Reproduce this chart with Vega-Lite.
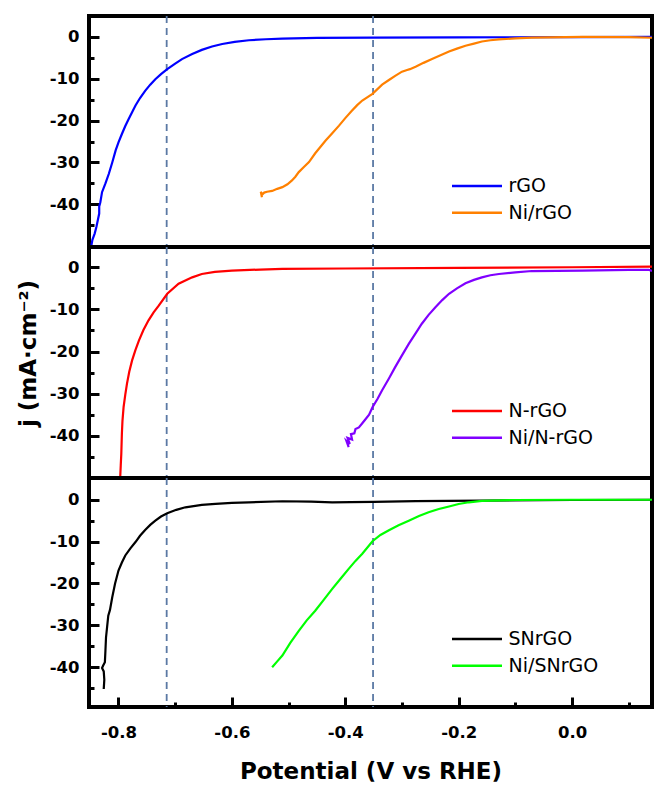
{
  "$schema": "https://vega.github.io/schema/vega-lite/v6.json",
  "padding": {"left": 15, "top": 13, "right": 2, "bottom": 2},
  "spacing": 0,
  "bounds": "flush",
  "config": {
    "view": {"stroke": "black", "strokeWidth": 4},
    "locale": {"number": {"decimal": ".", "thousands": ",", "grouping": [3], "currency": ["$", ""], "minus": "-"}},
    "axis": {"grid": false, "domain": false, "tickColor": "black", "tickWidth": 3, "labelColor": "black", "titleColor": "black", "labelFont": "DejaVu Sans", "labelFontWeight": "bold", "labelFontSize": 16.5, "titleFont": "DejaVu Sans", "titleFontWeight": "bold", "titleFontSize": 23},
    "legend": {"orient": "none", "title": null, "symbolType": "stroke", "symbolSize": 2500, "symbolStrokeWidth": 2.5, "clipHeight": 20, "rowPadding": 6.7, "labelFont": "DejaVu Sans", "labelFontSize": 19, "labelColor": "black", "labelOffset": 5, "padding": 0}
  },
  "datasets": {
    "vlines": [{"v": -0.715}, {"v": -0.351}],
    "curves": [
      {"panel": 1, "series": "rGO", "x": -0.848, "y": -50},
      {"panel": 1, "series": "rGO", "x": -0.846, "y": -48.5},
      {"panel": 1, "series": "rGO", "x": -0.842, "y": -47},
      {"panel": 1, "series": "rGO", "x": -0.839, "y": -45.4},
      {"panel": 1, "series": "rGO", "x": -0.836, "y": -43.5},
      {"panel": 1, "series": "rGO", "x": -0.834, "y": -42.2},
      {"panel": 1, "series": "rGO", "x": -0.834, "y": -40.5},
      {"panel": 1, "series": "rGO", "x": -0.832, "y": -39.5},
      {"panel": 1, "series": "rGO", "x": -0.829, "y": -37.1},
      {"panel": 1, "series": "rGO", "x": -0.823, "y": -35},
      {"panel": 1, "series": "rGO", "x": -0.817, "y": -32.7},
      {"panel": 1, "series": "rGO", "x": -0.811, "y": -30},
      {"panel": 1, "series": "rGO", "x": -0.805, "y": -27.1},
      {"panel": 1, "series": "rGO", "x": -0.8, "y": -25.2},
      {"panel": 1, "series": "rGO", "x": -0.794, "y": -23.2},
      {"panel": 1, "series": "rGO", "x": -0.788, "y": -21.3},
      {"panel": 1, "series": "rGO", "x": -0.782, "y": -19.6},
      {"panel": 1, "series": "rGO", "x": -0.776, "y": -18},
      {"panel": 1, "series": "rGO", "x": -0.77, "y": -16.4},
      {"panel": 1, "series": "rGO", "x": -0.762, "y": -14.6},
      {"panel": 1, "series": "rGO", "x": -0.753, "y": -12.9},
      {"panel": 1, "series": "rGO", "x": -0.744, "y": -11.4},
      {"panel": 1, "series": "rGO", "x": -0.735, "y": -10.1},
      {"panel": 1, "series": "rGO", "x": -0.725, "y": -8.9},
      {"panel": 1, "series": "rGO", "x": -0.714, "y": -7.7},
      {"panel": 1, "series": "rGO", "x": -0.7, "y": -6.4},
      {"panel": 1, "series": "rGO", "x": -0.688, "y": -5.3},
      {"panel": 1, "series": "rGO", "x": -0.67, "y": -4.1},
      {"panel": 1, "series": "rGO", "x": -0.653, "y": -3.1},
      {"panel": 1, "series": "rGO", "x": -0.635, "y": -2.3},
      {"panel": 1, "series": "rGO", "x": -0.617, "y": -1.7},
      {"panel": 1, "series": "rGO", "x": -0.595, "y": -1.2},
      {"panel": 1, "series": "rGO", "x": -0.57, "y": -0.8},
      {"panel": 1, "series": "rGO", "x": -0.54, "y": -0.55},
      {"panel": 1, "series": "rGO", "x": -0.511, "y": -0.4},
      {"panel": 1, "series": "rGO", "x": -0.45, "y": -0.25},
      {"panel": 1, "series": "rGO", "x": -0.353, "y": -0.15},
      {"panel": 1, "series": "rGO", "x": -0.2, "y": -0.1},
      {"panel": 1, "series": "rGO", "x": 0, "y": -0.05},
      {"panel": 1, "series": "rGO", "x": 0.141, "y": 0},
      {"panel": 1, "series": "Ni/rGO", "x": -0.547, "y": -38.3},
      {"panel": 1, "series": "Ni/rGO", "x": -0.549, "y": -37.0},
      {"panel": 1, "series": "Ni/rGO", "x": -0.546, "y": -37.6},
      {"panel": 1, "series": "Ni/rGO", "x": -0.543, "y": -37.2},
      {"panel": 1, "series": "Ni/rGO", "x": -0.538, "y": -37.0},
      {"panel": 1, "series": "Ni/rGO", "x": -0.529, "y": -36.8},
      {"panel": 1, "series": "Ni/rGO", "x": -0.52, "y": -36.3},
      {"panel": 1, "series": "Ni/rGO", "x": -0.511, "y": -35.9},
      {"panel": 1, "series": "Ni/rGO", "x": -0.502, "y": -35.2},
      {"panel": 1, "series": "Ni/rGO", "x": -0.494, "y": -34.3},
      {"panel": 1, "series": "Ni/rGO", "x": -0.488, "y": -33.4},
      {"panel": 1, "series": "Ni/rGO", "x": -0.482, "y": -32.3},
      {"panel": 1, "series": "Ni/rGO", "x": -0.473, "y": -31.1},
      {"panel": 1, "series": "Ni/rGO", "x": -0.464, "y": -29.9},
      {"panel": 1, "series": "Ni/rGO", "x": -0.453, "y": -27.8},
      {"panel": 1, "series": "Ni/rGO", "x": -0.444, "y": -26.3},
      {"panel": 1, "series": "Ni/rGO", "x": -0.435, "y": -24.8},
      {"panel": 1, "series": "Ni/rGO", "x": -0.423, "y": -23.0},
      {"panel": 1, "series": "Ni/rGO", "x": -0.411, "y": -21.2},
      {"panel": 1, "series": "Ni/rGO", "x": -0.4, "y": -19.4},
      {"panel": 1, "series": "Ni/rGO", "x": -0.388, "y": -17.6},
      {"panel": 1, "series": "Ni/rGO", "x": -0.379, "y": -16.3},
      {"panel": 1, "series": "Ni/rGO", "x": -0.37, "y": -15.2},
      {"panel": 1, "series": "Ni/rGO", "x": -0.352, "y": -13.6},
      {"panel": 1, "series": "Ni/rGO", "x": -0.335, "y": -11.4},
      {"panel": 1, "series": "Ni/rGO", "x": -0.323, "y": -10.3},
      {"panel": 1, "series": "Ni/rGO", "x": -0.312, "y": -9.3},
      {"panel": 1, "series": "Ni/rGO", "x": -0.3, "y": -8.3},
      {"panel": 1, "series": "Ni/rGO", "x": -0.291, "y": -7.9},
      {"panel": 1, "series": "Ni/rGO", "x": -0.286, "y": -7.7},
      {"panel": 1, "series": "Ni/rGO", "x": -0.276, "y": -7.1},
      {"panel": 1, "series": "Ni/rGO", "x": -0.262, "y": -6.2},
      {"panel": 1, "series": "Ni/rGO", "x": -0.247, "y": -5.3},
      {"panel": 1, "series": "Ni/rGO", "x": -0.232, "y": -4.4},
      {"panel": 1, "series": "Ni/rGO", "x": -0.217, "y": -3.5},
      {"panel": 1, "series": "Ni/rGO", "x": -0.203, "y": -2.8},
      {"panel": 1, "series": "Ni/rGO", "x": -0.188, "y": -2.1},
      {"panel": 1, "series": "Ni/rGO", "x": -0.173, "y": -1.6},
      {"panel": 1, "series": "Ni/rGO", "x": -0.159, "y": -1.1},
      {"panel": 1, "series": "Ni/rGO", "x": -0.144, "y": -0.8},
      {"panel": 1, "series": "Ni/rGO", "x": -0.129, "y": -0.6},
      {"panel": 1, "series": "Ni/rGO", "x": -0.1, "y": -0.35},
      {"panel": 1, "series": "Ni/rGO", "x": -0.071, "y": -0.15},
      {"panel": 1, "series": "Ni/rGO", "x": 0.018, "y": 0},
      {"panel": 1, "series": "Ni/rGO", "x": 0.1, "y": -0.05},
      {"panel": 1, "series": "Ni/rGO", "x": 0.141, "y": -0.2},
      {"panel": 2, "series": "N-rGO", "x": -0.797, "y": -50},
      {"panel": 2, "series": "N-rGO", "x": -0.796, "y": -47},
      {"panel": 2, "series": "N-rGO", "x": -0.795, "y": -44.2},
      {"panel": 2, "series": "N-rGO", "x": -0.794, "y": -39.5},
      {"panel": 2, "series": "N-rGO", "x": -0.793, "y": -36.5},
      {"panel": 2, "series": "N-rGO", "x": -0.791, "y": -33.2},
      {"panel": 2, "series": "N-rGO", "x": -0.788, "y": -30.2},
      {"panel": 2, "series": "N-rGO", "x": -0.785, "y": -27.6},
      {"panel": 2, "series": "N-rGO", "x": -0.781, "y": -24.8},
      {"panel": 2, "series": "N-rGO", "x": -0.776, "y": -22.1},
      {"panel": 2, "series": "N-rGO", "x": -0.77, "y": -19.6},
      {"panel": 2, "series": "N-rGO", "x": -0.764, "y": -17.4},
      {"panel": 2, "series": "N-rGO", "x": -0.756, "y": -14.9},
      {"panel": 2, "series": "N-rGO", "x": -0.747, "y": -12.6},
      {"panel": 2, "series": "N-rGO", "x": -0.738, "y": -10.7},
      {"panel": 2, "series": "N-rGO", "x": -0.729, "y": -9.1},
      {"panel": 2, "series": "N-rGO", "x": -0.714, "y": -6.3},
      {"panel": 2, "series": "N-rGO", "x": -0.694, "y": -3.9},
      {"panel": 2, "series": "N-rGO", "x": -0.67, "y": -2.4},
      {"panel": 2, "series": "N-rGO", "x": -0.653, "y": -1.6},
      {"panel": 2, "series": "N-rGO", "x": -0.63, "y": -1.1},
      {"panel": 2, "series": "N-rGO", "x": -0.6, "y": -0.8},
      {"panel": 2, "series": "N-rGO", "x": -0.55, "y": -0.55},
      {"panel": 2, "series": "N-rGO", "x": -0.511, "y": -0.4},
      {"panel": 2, "series": "N-rGO", "x": -0.4, "y": -0.3},
      {"panel": 2, "series": "N-rGO", "x": -0.2, "y": -0.15},
      {"panel": 2, "series": "N-rGO", "x": 0, "y": 0},
      {"panel": 2, "series": "N-rGO", "x": 0.141, "y": 0.15},
      {"panel": 2, "series": "Ni/N-rGO", "x": -0.394, "y": -42.7},
      {"panel": 2, "series": "Ni/N-rGO", "x": -0.398, "y": -41.2},
      {"panel": 2, "series": "Ni/N-rGO", "x": -0.392, "y": -41.9},
      {"panel": 2, "series": "Ni/N-rGO", "x": -0.396, "y": -40.5},
      {"panel": 2, "series": "Ni/N-rGO", "x": -0.388, "y": -40.9},
      {"panel": 2, "series": "Ni/N-rGO", "x": -0.39, "y": -39.6},
      {"panel": 2, "series": "Ni/N-rGO", "x": -0.384, "y": -39.4},
      {"panel": 2, "series": "Ni/N-rGO", "x": -0.382, "y": -38.4},
      {"panel": 2, "series": "Ni/N-rGO", "x": -0.376, "y": -38.0},
      {"panel": 2, "series": "Ni/N-rGO", "x": -0.37, "y": -37.0},
      {"panel": 2, "series": "Ni/N-rGO", "x": -0.364, "y": -36.0},
      {"panel": 2, "series": "Ni/N-rGO", "x": -0.358, "y": -35.0},
      {"panel": 2, "series": "Ni/N-rGO", "x": -0.352, "y": -33.2},
      {"panel": 2, "series": "Ni/N-rGO", "x": -0.343, "y": -31.2},
      {"panel": 2, "series": "Ni/N-rGO", "x": -0.335, "y": -29.2},
      {"panel": 2, "series": "Ni/N-rGO", "x": -0.323, "y": -26.4},
      {"panel": 2, "series": "Ni/N-rGO", "x": -0.312, "y": -23.7},
      {"panel": 2, "series": "Ni/N-rGO", "x": -0.3, "y": -20.9},
      {"panel": 2, "series": "Ni/N-rGO", "x": -0.288, "y": -18.2},
      {"panel": 2, "series": "Ni/N-rGO", "x": -0.276, "y": -15.7},
      {"panel": 2, "series": "Ni/N-rGO", "x": -0.265, "y": -13.4},
      {"panel": 2, "series": "Ni/N-rGO", "x": -0.253, "y": -11.3},
      {"panel": 2, "series": "Ni/N-rGO", "x": -0.241, "y": -9.5},
      {"panel": 2, "series": "Ni/N-rGO", "x": -0.229, "y": -7.8},
      {"panel": 2, "series": "Ni/N-rGO", "x": -0.217, "y": -6.3},
      {"panel": 2, "series": "Ni/N-rGO", "x": -0.203, "y": -5.0},
      {"panel": 2, "series": "Ni/N-rGO", "x": -0.188, "y": -3.8},
      {"panel": 2, "series": "Ni/N-rGO", "x": -0.173, "y": -3.0},
      {"panel": 2, "series": "Ni/N-rGO", "x": -0.159, "y": -2.4},
      {"panel": 2, "series": "Ni/N-rGO", "x": -0.144, "y": -1.9},
      {"panel": 2, "series": "Ni/N-rGO", "x": -0.129, "y": -1.6},
      {"panel": 2, "series": "Ni/N-rGO", "x": -0.1, "y": -1.2},
      {"panel": 2, "series": "Ni/N-rGO", "x": -0.071, "y": -0.9},
      {"panel": 2, "series": "Ni/N-rGO", "x": 0.018, "y": -0.8},
      {"panel": 2, "series": "Ni/N-rGO", "x": 0.1, "y": -0.65},
      {"panel": 2, "series": "Ni/N-rGO", "x": 0.135, "y": -0.6},
      {"panel": 2, "series": "Ni/N-rGO", "x": 0.141, "y": -0.9},
      {"panel": 3, "series": "SNrGO", "x": -0.826, "y": -45.2},
      {"panel": 3, "series": "SNrGO", "x": -0.825, "y": -43},
      {"panel": 3, "series": "SNrGO", "x": -0.826, "y": -41},
      {"panel": 3, "series": "SNrGO", "x": -0.829, "y": -40.2},
      {"panel": 3, "series": "SNrGO", "x": -0.827, "y": -39.6},
      {"panel": 3, "series": "SNrGO", "x": -0.824, "y": -38.8},
      {"panel": 3, "series": "SNrGO", "x": -0.823, "y": -36},
      {"panel": 3, "series": "SNrGO", "x": -0.822, "y": -32.9},
      {"panel": 3, "series": "SNrGO", "x": -0.82, "y": -30.3},
      {"panel": 3, "series": "SNrGO", "x": -0.818, "y": -27.7},
      {"panel": 3, "series": "SNrGO", "x": -0.815, "y": -26.3},
      {"panel": 3, "series": "SNrGO", "x": -0.811, "y": -23.3},
      {"panel": 3, "series": "SNrGO", "x": -0.806, "y": -20.0},
      {"panel": 3, "series": "SNrGO", "x": -0.8, "y": -16.9},
      {"panel": 3, "series": "SNrGO", "x": -0.794, "y": -15.0},
      {"panel": 3, "series": "SNrGO", "x": -0.788, "y": -13.3},
      {"panel": 3, "series": "SNrGO", "x": -0.779, "y": -11.6},
      {"panel": 3, "series": "SNrGO", "x": -0.77, "y": -10.1},
      {"panel": 3, "series": "SNrGO", "x": -0.762, "y": -8.6},
      {"panel": 3, "series": "SNrGO", "x": -0.753, "y": -7.2},
      {"panel": 3, "series": "SNrGO", "x": -0.744, "y": -6.0},
      {"panel": 3, "series": "SNrGO", "x": -0.735, "y": -5.0},
      {"panel": 3, "series": "SNrGO", "x": -0.725, "y": -4.0},
      {"panel": 3, "series": "SNrGO", "x": -0.714, "y": -3.2},
      {"panel": 3, "series": "SNrGO", "x": -0.698, "y": -2.4},
      {"panel": 3, "series": "SNrGO", "x": -0.682, "y": -1.8},
      {"panel": 3, "series": "SNrGO", "x": -0.653, "y": -1.2},
      {"panel": 3, "series": "SNrGO", "x": -0.629, "y": -1.0},
      {"panel": 3, "series": "SNrGO", "x": -0.6, "y": -0.75},
      {"panel": 3, "series": "SNrGO", "x": -0.57, "y": -0.6},
      {"panel": 3, "series": "SNrGO", "x": -0.511, "y": -0.35},
      {"panel": 3, "series": "SNrGO", "x": -0.46, "y": -0.45},
      {"panel": 3, "series": "SNrGO", "x": -0.423, "y": -0.6},
      {"panel": 3, "series": "SNrGO", "x": -0.39, "y": -0.55},
      {"panel": 3, "series": "SNrGO", "x": -0.35, "y": -0.5},
      {"panel": 3, "series": "SNrGO", "x": -0.276, "y": -0.3},
      {"panel": 3, "series": "SNrGO", "x": -0.159, "y": -0.2},
      {"panel": 3, "series": "SNrGO", "x": 0, "y": -0.05},
      {"panel": 3, "series": "SNrGO", "x": 0.141, "y": 0},
      {"panel": 3, "series": "Ni/SNrGO", "x": -0.529, "y": -40.0},
      {"panel": 3, "series": "Ni/SNrGO", "x": -0.52, "y": -38.6},
      {"panel": 3, "series": "Ni/SNrGO", "x": -0.511, "y": -37.2},
      {"panel": 3, "series": "Ni/SNrGO", "x": -0.497, "y": -34.2},
      {"panel": 3, "series": "Ni/SNrGO", "x": -0.482, "y": -31.3},
      {"panel": 3, "series": "Ni/SNrGO", "x": -0.468, "y": -28.8},
      {"panel": 3, "series": "Ni/SNrGO", "x": -0.453, "y": -26.5},
      {"panel": 3, "series": "Ni/SNrGO", "x": -0.438, "y": -23.9},
      {"panel": 3, "series": "Ni/SNrGO", "x": -0.423, "y": -21.3},
      {"panel": 3, "series": "Ni/SNrGO", "x": -0.408, "y": -18.8},
      {"panel": 3, "series": "Ni/SNrGO", "x": -0.394, "y": -16.5},
      {"panel": 3, "series": "Ni/SNrGO", "x": -0.382, "y": -14.6},
      {"panel": 3, "series": "Ni/SNrGO", "x": -0.37, "y": -12.9},
      {"panel": 3, "series": "Ni/SNrGO", "x": -0.352, "y": -9.9},
      {"panel": 3, "series": "Ni/SNrGO", "x": -0.338, "y": -8.4},
      {"panel": 3, "series": "Ni/SNrGO", "x": -0.323, "y": -7.3},
      {"panel": 3, "series": "Ni/SNrGO", "x": -0.306, "y": -6.1},
      {"panel": 3, "series": "Ni/SNrGO", "x": -0.288, "y": -5.0},
      {"panel": 3, "series": "Ni/SNrGO", "x": -0.27, "y": -3.9},
      {"panel": 3, "series": "Ni/SNrGO", "x": -0.253, "y": -3.0},
      {"panel": 3, "series": "Ni/SNrGO", "x": -0.235, "y": -2.2},
      {"panel": 3, "series": "Ni/SNrGO", "x": -0.217, "y": -1.6},
      {"panel": 3, "series": "Ni/SNrGO", "x": -0.2, "y": -1.0},
      {"panel": 3, "series": "Ni/SNrGO", "x": -0.182, "y": -0.6},
      {"panel": 3, "series": "Ni/SNrGO", "x": -0.159, "y": -0.25},
      {"panel": 3, "series": "Ni/SNrGO", "x": -0.1, "y": -0.05},
      {"panel": 3, "series": "Ni/SNrGO", "x": 0, "y": 0},
      {"panel": 3, "series": "Ni/SNrGO", "x": 0.141, "y": 0}
    ]
  },
  "resolve": {"scale": {"color": "independent", "y": "independent"}, "legend": {"color": "independent"}},
  "vconcat": [
    {
      "width": 563, "height": 231,
      "layer": [
        {"data": {"name": "vlines"}, "mark": {"type": "rule", "color": "#5b79a4", "strokeWidth": 1.8, "strokeDash": [7, 5]},
         "encoding": {"x": {"field": "v", "type": "quantitative", "scale": {"domain": [-0.852, 0.141], "nice": false, "zero": false}, "axis": null}}},
        {"data": {"name": "curves"}, "transform": [{"filter": "datum.panel == 1"}],
         "mark": {"type": "line", "strokeWidth": 2.2, "clip": true},
         "encoding": {
           "x": {"field": "x", "type": "quantitative", "scale": {"domain": [-0.852, 0.141], "nice": false, "zero": false}, "axis": null},
           "y": {"field": "y", "type": "quantitative", "scale": {"domain": [-50.2, 5], "nice": false, "zero": false},
                 "axis": {"orient": "left", "values": [-40, -30, -20, -10, 0], "format": "d", "tickSize": -10, "labelPadding": 20, "title": null}},
           "color": {"field": "series", "type": "nominal", "scale": {"domain": ["rGO", "Ni/rGO"], "range": ["#0000ff", "#ff8000"]},
                     "legend": {"legendX": 361.5, "legendY": 160}},
           "order": {"value": null}
         }},
        {"data": {"name": "curves"}, "transform": [{"filter": "datum.panel == 1"}],
         "mark": {"type": "line", "opacity": 0},
         "encoding": {
           "x": {"field": "x", "type": "quantitative", "scale": {"domain": [-0.852, 0.141], "nice": false, "zero": false}, "axis": null},
           "y": {"field": "y", "type": "quantitative", "scale": {"domain": [-50.2, 5], "nice": false, "zero": false},
                 "axis": {"orient": "left", "values": [-45, -35, -25, -15, -5], "tickSize": -5, "labels": false, "title": null}}
         }}
      ],
      "resolve": {"axis": {"y": "independent"}}
    },
    {
      "width": 563, "height": 231,
      "layer": [
        {"data": {"name": "vlines"}, "mark": {"type": "rule", "color": "#5b79a4", "strokeWidth": 1.8, "strokeDash": [7, 5]},
         "encoding": {"x": {"field": "v", "type": "quantitative", "scale": {"domain": [-0.852, 0.141], "nice": false, "zero": false}, "axis": null}}},
        {"data": {"name": "curves"}, "transform": [{"filter": "datum.panel == 2"}],
         "mark": {"type": "line", "strokeWidth": 2.2, "clip": true},
         "encoding": {
           "x": {"field": "x", "type": "quantitative", "scale": {"domain": [-0.852, 0.141], "nice": false, "zero": false}, "axis": null},
           "y": {"field": "y", "type": "quantitative", "scale": {"domain": [-50, 4.8], "nice": false, "zero": false},
                 "axis": {"orient": "left", "values": [-40, -30, -20, -10, 0], "format": "d", "tickSize": -10, "labelPadding": 20, "title": "j (mA·cm⁻²)", "titlePadding": 9, "titleY": 106}},
           "color": {"field": "series", "type": "nominal", "scale": {"domain": ["N-rGO", "Ni/N-rGO"], "range": ["#ff0000", "#8000ff"]},
                     "legend": {"legendX": 361.5, "legendY": 154}},
           "order": {"value": null}
         }},
        {"data": {"name": "curves"}, "transform": [{"filter": "datum.panel == 2"}],
         "mark": {"type": "line", "opacity": 0},
         "encoding": {
           "x": {"field": "x", "type": "quantitative", "scale": {"domain": [-0.852, 0.141], "nice": false, "zero": false}, "axis": null},
           "y": {"field": "y", "type": "quantitative", "scale": {"domain": [-50, 4.8], "nice": false, "zero": false},
                 "axis": {"orient": "left", "values": [-45, -35, -25, -15, -5], "tickSize": -5, "labels": false, "title": null}}
         }}
      ],
      "resolve": {"axis": {"y": "independent"}}
    },
    {
      "width": 563, "height": 229,
      "layer": [
        {"data": {"name": "vlines"}, "mark": {"type": "rule", "color": "#5b79a4", "strokeWidth": 1.8, "strokeDash": [7, 5]},
         "encoding": {"x": {"field": "v", "type": "quantitative", "scale": {"domain": [-0.852, 0.141], "nice": false, "zero": false}, "axis": null}}},
        {"data": {"name": "curves"}, "transform": [{"filter": "datum.panel == 3"}],
         "mark": {"type": "line", "strokeWidth": 2.2, "clip": true},
         "encoding": {
           "x": {"field": "x", "type": "quantitative", "scale": {"domain": [-0.852, 0.141], "nice": false, "zero": false},
                 "axis": {"orient": "bottom", "values": [-0.8, -0.6, -0.4, -0.2, 0], "format": ".1f", "tickSize": -10, "labelPadding": 27, "title": "Potential (V vs RHE)", "titlePadding": 20}},
           "y": {"field": "y", "type": "quantitative", "scale": {"domain": [-49.5, 5.2], "nice": false, "zero": false},
                 "axis": {"orient": "left", "values": [-40, -30, -20, -10, 0], "format": "d", "tickSize": -10, "labelPadding": 20, "title": null}},
           "color": {"field": "series", "type": "nominal", "scale": {"domain": ["SNrGO", "Ni/SNrGO"], "range": ["#000000", "#00ff00"]},
                     "legend": {"legendX": 361.5, "legendY": 151}},
           "order": {"value": null}
         }},
        {"data": {"name": "curves"}, "transform": [{"filter": "datum.panel == 3"}],
         "mark": {"type": "line", "opacity": 0},
         "encoding": {
           "x": {"field": "x", "type": "quantitative", "scale": {"domain": [-0.852, 0.141], "nice": false, "zero": false},
                 "axis": {"orient": "bottom", "values": [-0.7, -0.5, -0.3, -0.1, 0.1], "tickSize": -5, "labels": false, "title": null}},
           "y": {"field": "y", "type": "quantitative", "scale": {"domain": [-49.5, 5.2], "nice": false, "zero": false},
                 "axis": {"orient": "left", "values": [-45, -35, -25, -15, -5], "tickSize": -5, "labels": false, "title": null}}
         }}
      ],
      "resolve": {"axis": {"y": "independent", "x": "independent"}}
    }
  ]
}
